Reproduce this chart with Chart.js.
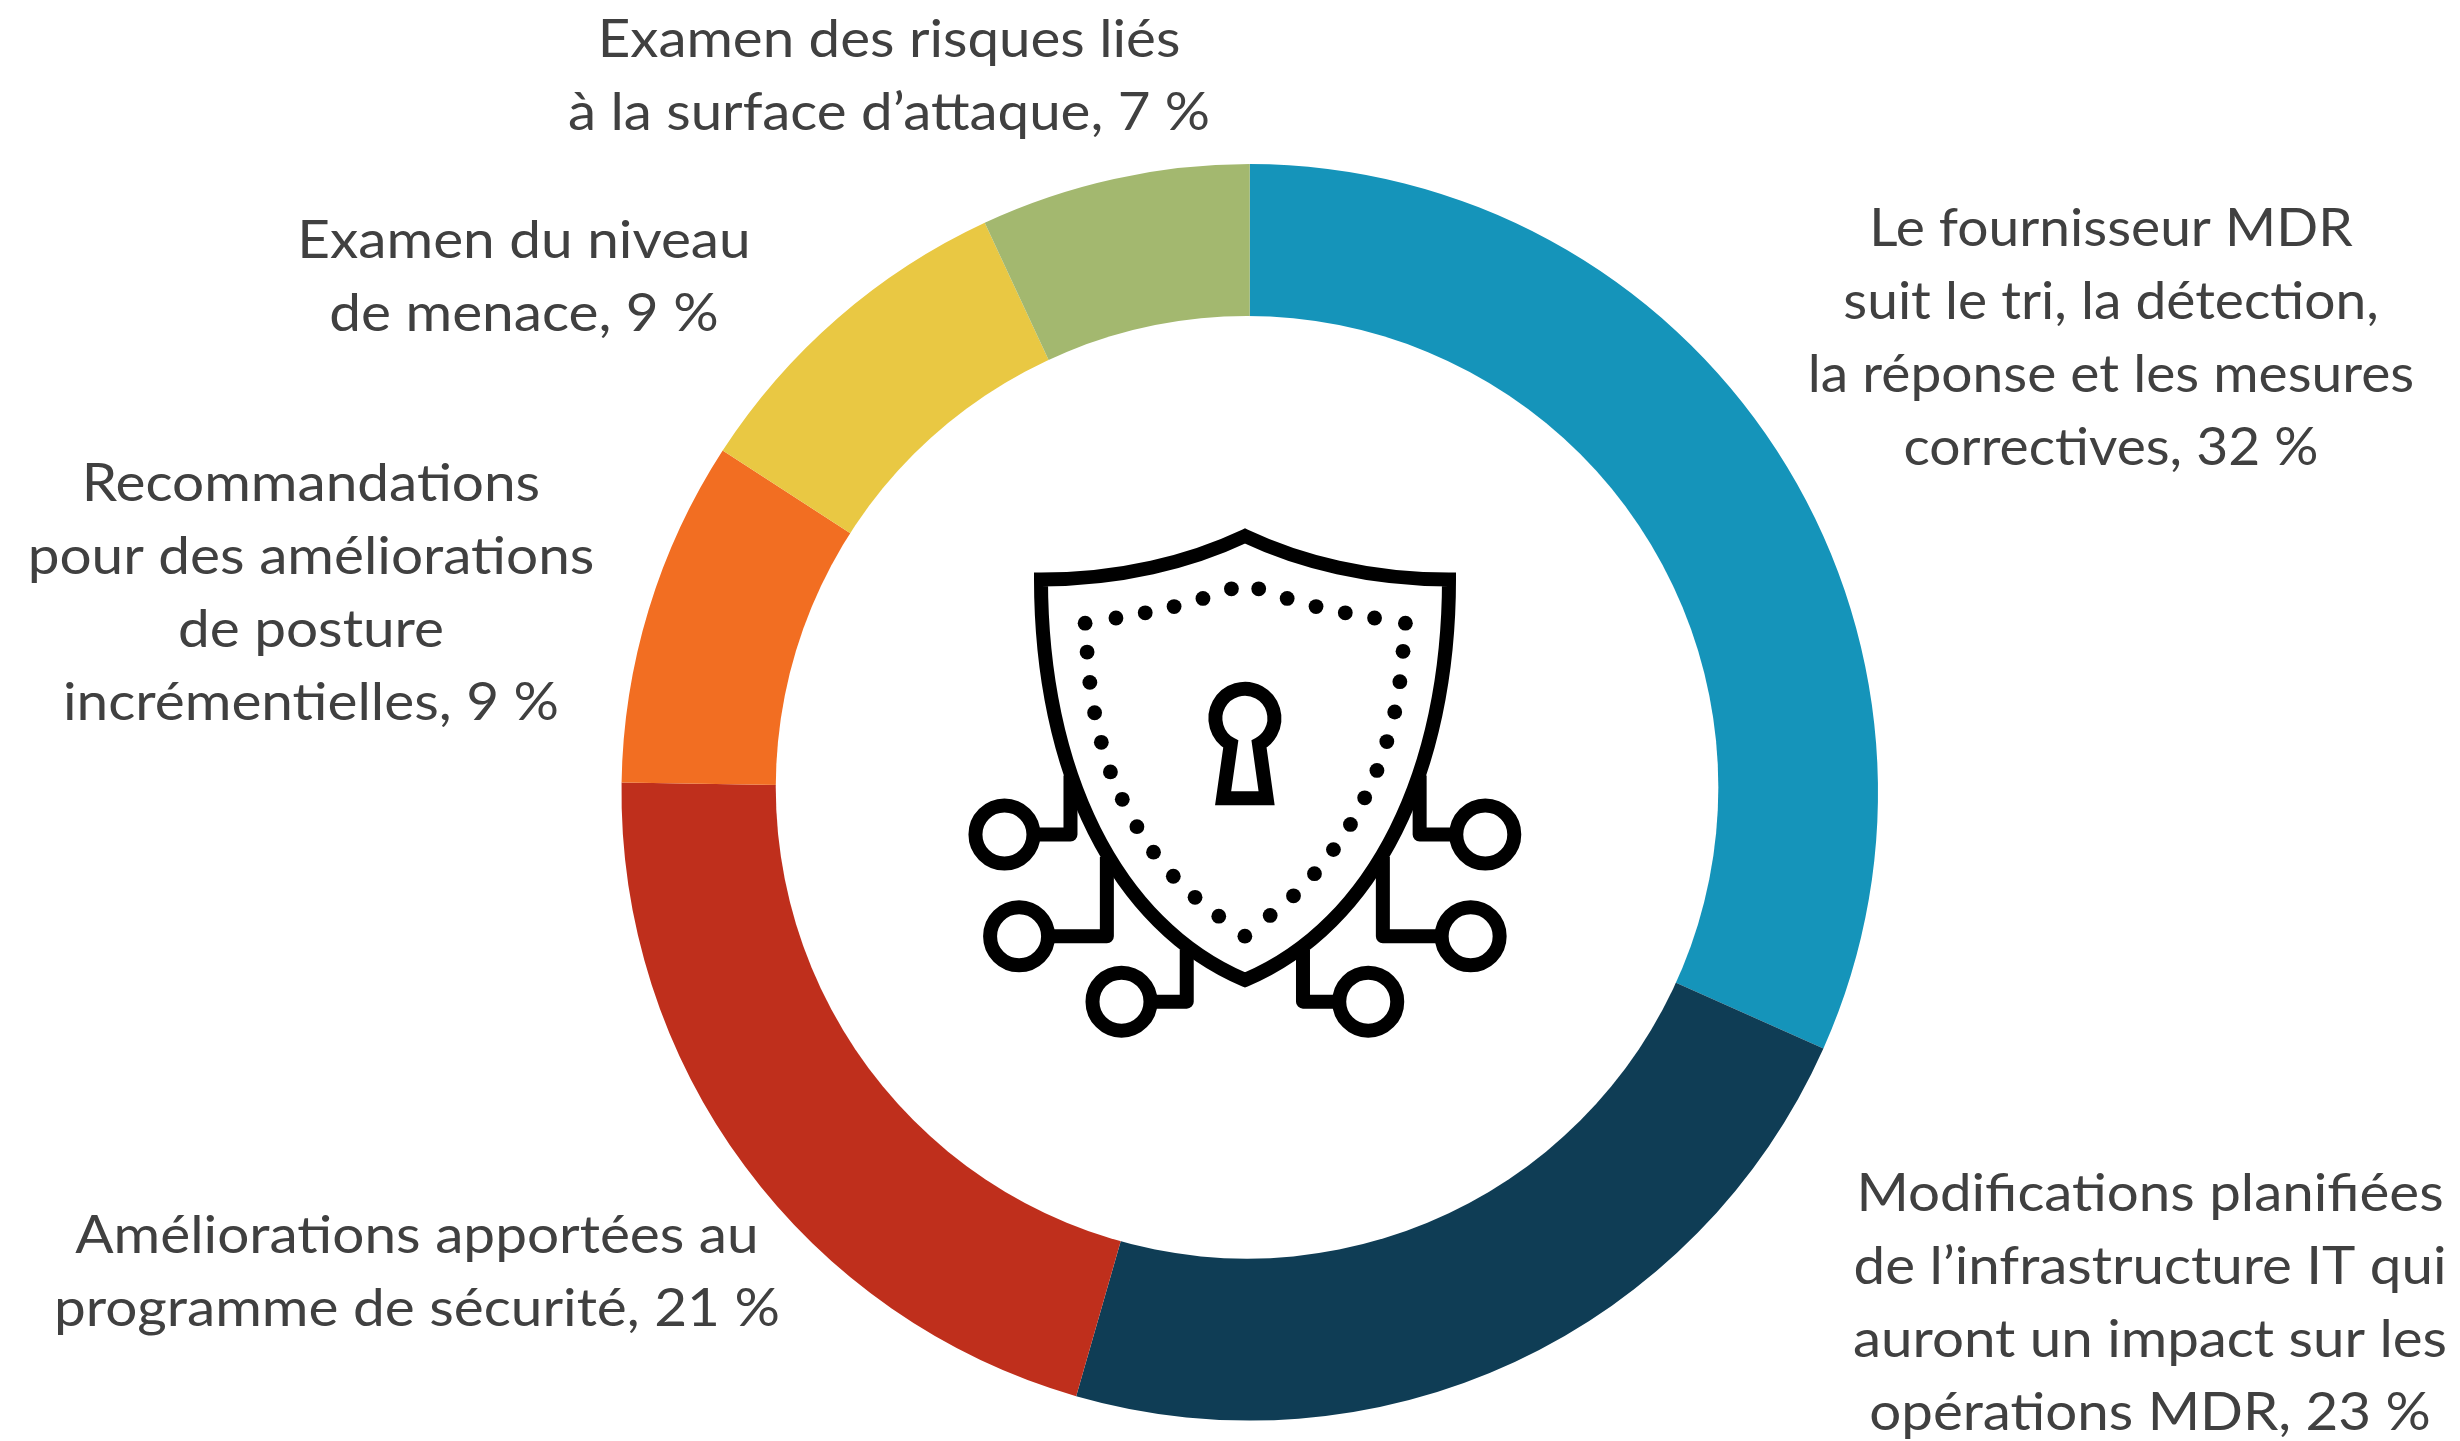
<!DOCTYPE html>
<html>
<head>
<meta charset="utf-8">
<title>MDR</title>
<script src="https://cdn.jsdelivr.net/npm/chart.js@4"></script>
<style>
html, body { margin: 0; padding: 0; background: #fff; }
canvas { display: block; }
</style>
</head>
<body>
<canvas id="myChart" width="2460" height="1441"></canvas>
<script>
const categories = [
	'Le fournisseur MDR suit le tri, la détection, la réponse et les mesures correctives',
	'Modifications planifiées de l’infrastructure IT qui auront un impact sur les opérations MDR',
	'Améliorations apportées au programme de sécurité',
	'Recommandations pour des améliorations de posture incrémentielles',
	'Examen du niveau de menace',
	'Examen des risques liés à la surface d’attaque'
];
const values = [32, 23, 21, 9, 9, 7];
const colors = ['#1594BA', '#0F3D55', '#BF2F1C', '#F26E22', '#E9C843', '#A3B86F'];

// text of each label, line by line, same order as categories
const labelLines = [
	['Le fournisseur MDR', 'suit le tri, la détection,', 'la réponse et les mesures', 'correctives, 32 %'],
	['Modifications planifiées', 'de l’infrastructure IT qui', 'auront un impact sur les', 'opérations MDR, 23 %'],
	['Améliorations apportées au', 'programme de sécurité, 21 %'],
	['Recommandations', 'pour des améliorations', 'de posture', 'incrémentielles, 9 %'],
	['Examen du niveau', 'de menace, 9 %'],
	['Examen des risques liés', 'à la surface d’attaque, 7 %']
];
const labelX = [2111, 2150, 417, 311, 524, 889];
const labelY = [246, 1211, 1253, 501, 258, 57];
const lineHeight = 73;
// Lato stretched to the width of the original font
const textScale = [1.04, 1.065, 1.07, 1.07, 1.07, 1.065];

// icon points, measured on the zoomed crop
const ix = x => 940 + x / 2.529;
const iy = y => 500 + y / 2.703;
const dots = [
	[367,333],[445,319],[519,305],[592,288],[665,266],[737,240],[806,240],[878,266],[951,288],[1025,305],[1099,319],[1177,333],
	[372,411],[379,493],[391,575],[408,655],[431,735],[461,809],[498,883],[540,952],[590,1017],[645,1074],[705,1125],[771,1179],
	[1171,409],[1163,491],[1150,573],[1130,653],[1105,731],[1074,805],[1038,877],[995,945],[947,1010],[894,1070],[835,1123]
];
const nodes = [[163,904],[200,1179],[459,1356],[1083,1356],[1342,1179],[1379,904]];
const traces = [
	[[250,904],[330,904],[330,745]],
	[[285,1179],[422,1179],[422,965]],
	[[545,1356],[624,1356],[624,1215]],
	[[995,1356],[918,1356],[918,1215]],
	[[1255,1179],[1120,1179],[1120,965]],
	[[1290,904],[1213,904],[1213,745]]
];

function drawShield(ctx) {
	ctx.save();
	ctx.strokeStyle = '#000';
	ctx.fillStyle = '#000';
	ctx.lineWidth = 14;

	// traces go under the shield
	ctx.lineJoin = 'round';
	traces.forEach(t => {
		ctx.beginPath();
		t.forEach((p, i) => i ? ctx.lineTo(ix(p[0]), iy(p[1])) : ctx.moveTo(ix(p[0]), iy(p[1])));
		ctx.stroke();
	});
	nodes.forEach(n => {
		ctx.beginPath();
		ctx.arc(ix(n[0]), iy(n[1]), 29, 0, Math.PI * 2);
		ctx.stroke();
	});

	// shield outline
	ctx.lineJoin = 'miter';
	ctx.beginPath();
	ctx.moveTo(1245, 536);
	ctx.bezierCurveTo(1190, 562, 1120, 579.5, 1041, 579.5);
	ctx.bezierCurveTo(1041, 770, 1115, 925, 1245, 980);
	ctx.bezierCurveTo(1375, 925, 1449, 770, 1449, 579.5);
	ctx.bezierCurveTo(1370, 579.5, 1300, 562, 1245, 536);
	ctx.closePath();
	ctx.stroke();

	dots.forEach(d => {
		ctx.beginPath();
		ctx.arc(ix(d[0]), iy(d[1]), 7.4, 0, Math.PI * 2);
		ctx.fill();
	});

	// keyhole
	const cx = 1244.9, cy = 718.3;
	ctx.beginPath();
	ctx.moveTo(ix(716), iy(806));
	ctx.arc(cx, cy, 29.5, Math.atan2(24, -13.1), Math.atan2(24, 13.1) + Math.PI * 2);
	ctx.lineTo(ix(826), iy(806));
	ctx.closePath();
	ctx.stroke();
	ctx.restore();
}

const overlayPlugin = {
	id: 'overlay',
	afterDatasetsDraw(chart) {
		// the hole in the reference sits a little off the ring's centre
		const arc = chart.getDatasetMeta(0).data[0];
		const ctx = chart.ctx;
		ctx.save();
		ctx.fillStyle = '#fff';
		ctx.beginPath();
		ctx.arc(arc.x - 2.7, arc.y - 5, 471.3, 0, Math.PI * 2);
		ctx.fill();
		ctx.restore();
	},
	afterDraw(chart) {
		const ctx = chart.ctx;
		drawShield(ctx);
		ctx.save();
		ctx.fillStyle = '#404040';
		ctx.font = '53px Lato';
		ctx.textAlign = 'center';
		ctx.textBaseline = 'alphabetic';
		labelLines.forEach((lines, i) => {
			lines.forEach((line, j) => {
				ctx.save();
				ctx.translate(labelX[i], labelY[i] + j * lineHeight);
				ctx.scale(textScale[i], 1);
				ctx.fillText(line, 0, 0);
				ctx.restore();
			});
		});
		ctx.restore();
	}
};

const myChart = new Chart(document.getElementById('myChart'), {
	type: 'doughnut',
	data: {
		labels: categories,
		datasets: [{
			data: values,
			backgroundColor: colors,
			borderWidth: 0
		}]
	},
	options: {
		responsive: false,
		animation: false,
		cutout: '70%',
		layout: { padding: { left: 621.5, right: 582, top: 164, bottom: 20.3 } },
		plugins: {
			legend: { display: false },
			tooltip: { enabled: false }
		}
	},
	plugins: [overlayPlugin]
});
</script>
</body>
</html>
